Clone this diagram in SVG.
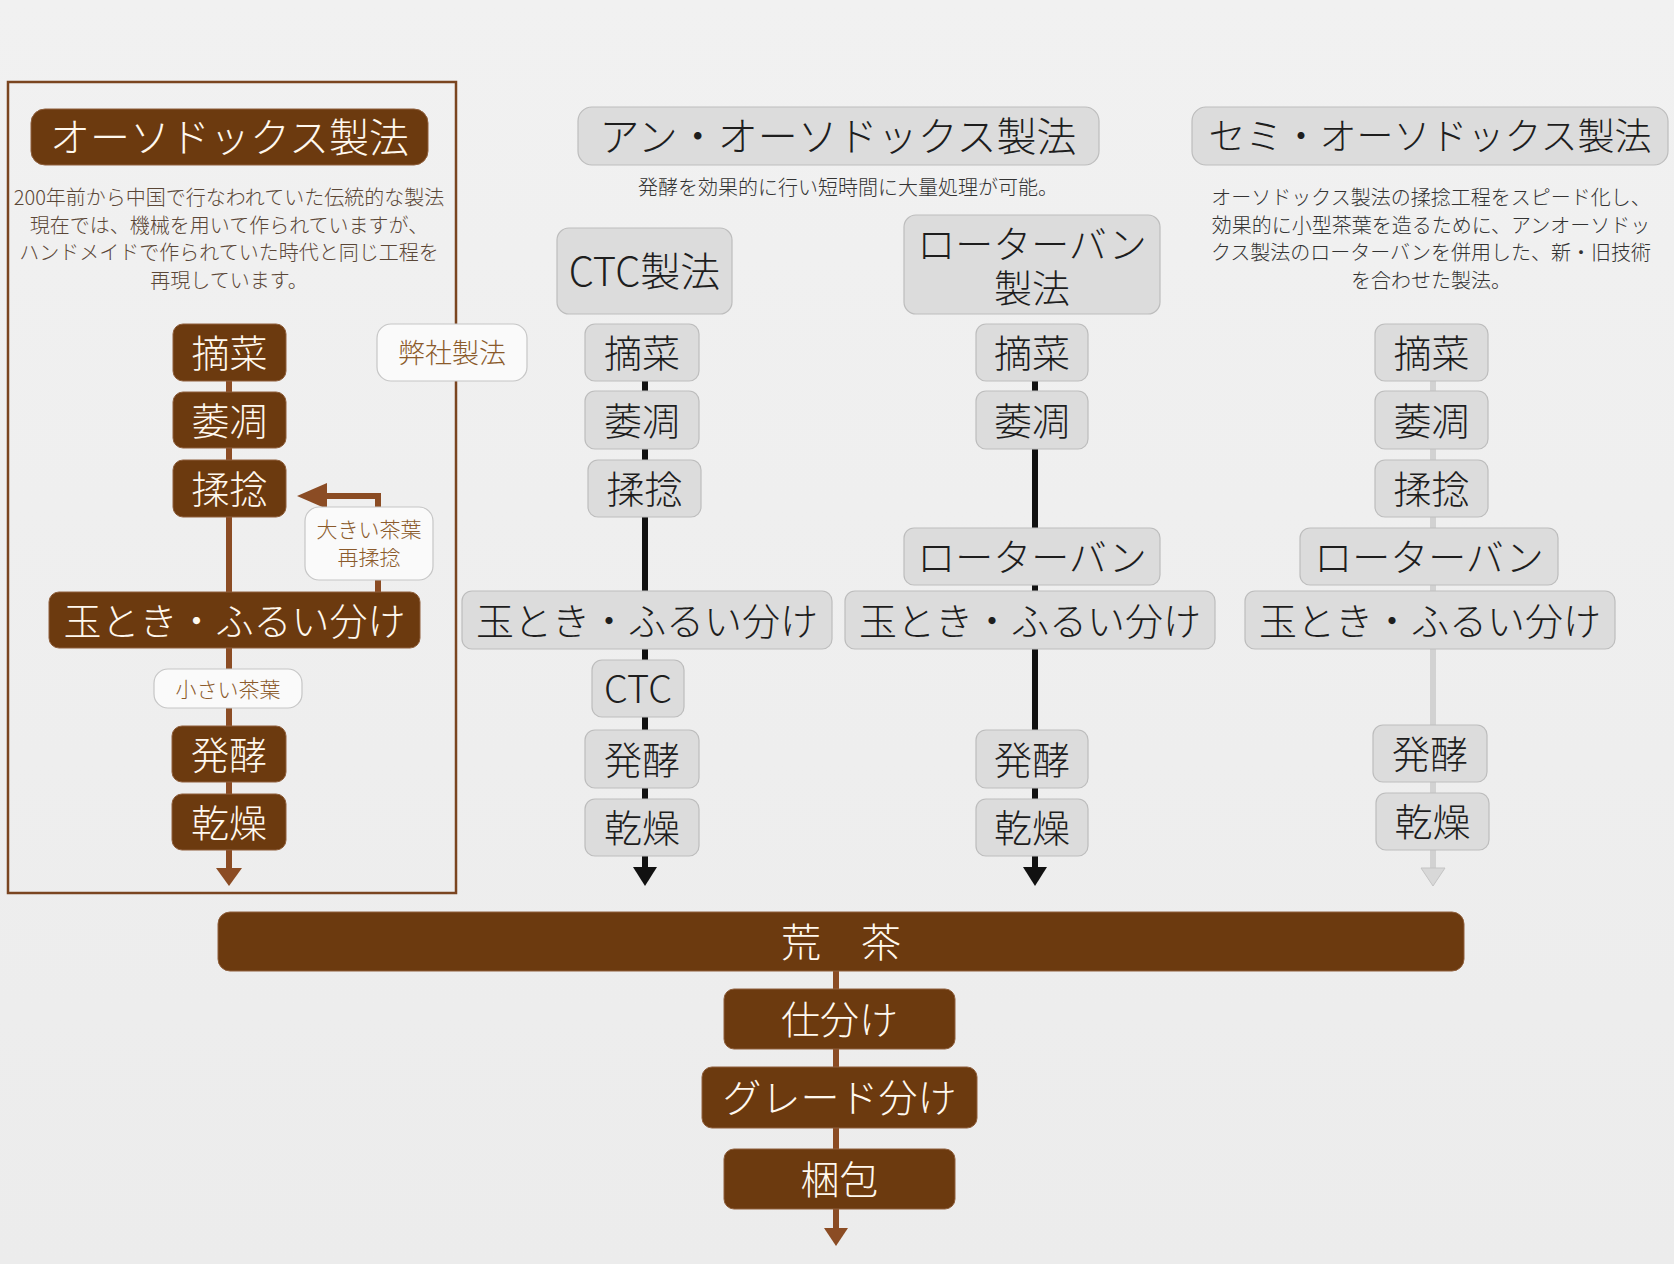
<svg xmlns="http://www.w3.org/2000/svg" width="1674" height="1264" viewBox="0 0 1674 1264">
<defs>
<linearGradient id="bg" x1="0" y1="0" x2="0" y2="1">
<stop offset="0" stop-color="#f1f1f1"/>
<stop offset="1" stop-color="#ececec"/>
</linearGradient>
<style>
text{font-family:"Noto Sans CJK JP","Noto Sans",sans-serif;font-weight:300;text-anchor:middle;dominant-baseline:central}
.b{fill:#6c3a0f;stroke:#8f5f3c;stroke-width:1}
.g{fill:#dcdcdc;stroke:#bdbdbd;stroke-width:1.2}
.p{fill:#fafafa;stroke:#c6c6c6;stroke-width:1.2}
.bt{fill:#fff8ee;font-size:38px}
.gt{fill:#1e1e1e;font-size:38px}
.pt{fill:#8b5a2b;font-size:21px}
.d{font-size:20px;fill:#333}
.dl{font-size:20px;fill:#5a4636}
.lb{stroke:#8b4c24;stroke-width:6;fill:none}
.lk{stroke:#111;stroke-width:6;fill:none}
.lg{stroke:#d2d2d2;stroke-width:6;fill:none}
</style>
</defs>
<rect x="0" y="0" width="1674" height="1264" fill="url(#bg)"/>

<g id="connectors">
<line class="lb" x1="229" y1="381" x2="229" y2="870"/>
<polygon points="216,868 242,868 229,886" fill="#8b4c24"/>
<path class="lb" d="M378 592 V496 H322"/>
<polygon points="297,496 327,483 327,509" fill="#8b4c24"/>
<line class="lk" x1="645" y1="381" x2="645" y2="869"/>
<polygon points="633,867 657,867 645,886" fill="#111"/>
<line class="lk" x1="1035" y1="381" x2="1035" y2="869"/>
<polygon points="1023,867 1047,867 1035,886" fill="#111"/>
<line class="lg" x1="1433" y1="381" x2="1433" y2="869"/>
<polygon points="1421,868 1445,868 1433,886" fill="#d8d8d8" stroke="#c4c4c4" stroke-width="1"/>
<line class="lb" x1="836" y1="971" x2="836" y2="1230"/>
<polygon points="824,1228 848,1228 836,1246" fill="#8b4c24"/>
</g>

<g id="orthodox-frame">
<rect x="8" y="82" width="448" height="811" fill="none" stroke="#7a4520" stroke-width="2.5"/>
</g>

<g id="orthodox-title">
<rect class="b" x="31" y="109" width="397" height="56" rx="14"/>
<text class="bt" x="229.5" y="135" style="font-size:40px">オーソドックス製法</text>
</g>
<g id="orthodox-desc">
<text class="dl" x="229" y="196">200年前から中国で行なわれていた伝統的な製法</text>
<text class="dl" x="229" y="224">現在では、機械を用いて作られていますが、</text>
<text class="dl" x="229" y="251">ハンドメイドで作られていた時代と同じ工程を</text>
<text class="dl" x="229" y="279">再現しています。</text>
</g>

<g id="o-tekisai"><rect class="b" x="173" y="324" width="113" height="57" rx="10"/><text class="bt" x="229.5" y="350">摘菜</text></g>
<g id="o-ichou"><rect class="b" x="173" y="392" width="113" height="56" rx="10"/><text class="bt" x="229.5" y="418">萎凋</text></g>
<g id="o-junen"><rect class="b" x="173" y="460" width="113" height="57" rx="10"/><text class="bt" x="229.5" y="486">揉捻</text></g>
<g id="o-tamatoki"><rect class="b" x="49" y="592" width="371" height="56" rx="10"/><text class="bt" x="234.5" y="618">玉とき・ふるい分け</text></g>
<g id="o-hakkou"><rect class="b" x="172" y="726" width="114" height="56" rx="10"/><text class="bt" x="229" y="752">発酵</text></g>
<g id="o-kansou"><rect class="b" x="172" y="794" width="114" height="56" rx="10"/><text class="bt" x="229" y="820">乾燥</text></g>
<g id="o-large"><rect class="p" x="305" y="507" width="128" height="73" rx="14"/><text class="pt" x="369" y="528">大きい茶葉</text><text class="pt" x="369" y="556">再揉捻</text></g>
<g id="o-small"><rect class="p" x="154" y="669" width="148" height="39" rx="14"/><text class="pt" x="228" y="688">小さい茶葉</text></g>
<g id="heisha"><rect class="p" x="377" y="324" width="150" height="57" rx="14"/><text class="pt" x="452" y="351" style="font-size:27px">弊社製法</text></g>

<g id="unorthodox-title">
<rect class="g" x="578" y="107" width="521" height="58" rx="14"/>
<text class="gt" x="838" y="134" style="font-size:40px">アン・オーソドックス製法</text>
</g>
<g id="unorthodox-desc"><text class="d" x="848" y="186">発酵を効果的に行い短時間に大量処理が可能。</text></g>

<g id="ctc-title"><rect class="g" x="557" y="228" width="175" height="86" rx="12"/><text class="gt" x="644.5" y="269" style="font-size:40px">CTC製法</text></g>
<g id="c-tekisai"><rect class="g" x="585" y="324" width="114" height="57" rx="10"/><text class="gt" x="642" y="350">摘菜</text></g>
<g id="c-ichou"><rect class="g" x="585" y="391" width="114" height="58" rx="10"/><text class="gt" x="642" y="418">萎凋</text></g>
<g id="c-junen"><rect class="g" x="588" y="460" width="113" height="57" rx="10"/><text class="gt" x="644.5" y="486">揉捻</text></g>
<g id="c-tamatoki"><rect class="g" x="462" y="591" width="370" height="58" rx="10"/><text class="gt" x="647" y="618">玉とき・ふるい分け</text></g>
<g id="c-ctc"><rect class="g" x="592" y="660" width="92" height="57" rx="10"/><text class="gt" x="638" y="686">CTC</text></g>
<g id="c-hakkou"><rect class="g" x="585" y="730" width="114" height="58" rx="10"/><text class="gt" x="642" y="757">発酵</text></g>
<g id="c-kansou"><rect class="g" x="585" y="799" width="114" height="57" rx="10"/><text class="gt" x="642" y="825">乾燥</text></g>

<g id="rotorvane-title"><rect class="g" x="904" y="215" width="256" height="99" rx="12"/><text class="gt" style="font-size:38px"><tspan x="1032" y="241">ローターバン</tspan><tspan x="1032" y="285">製法</tspan></text></g>
<g id="r-tekisai"><rect class="g" x="976" y="324" width="112" height="57" rx="10"/><text class="gt" x="1032" y="350">摘菜</text></g>
<g id="r-ichou"><rect class="g" x="976" y="391" width="112" height="58" rx="10"/><text class="gt" x="1032" y="418">萎凋</text></g>
<g id="r-rotorvane"><rect class="g" x="904" y="528" width="256" height="57" rx="10"/><text class="gt" x="1032" y="554">ローターバン</text></g>
<g id="r-tamatoki"><rect class="g" x="845" y="591" width="370" height="58" rx="10"/><text class="gt" x="1030" y="618">玉とき・ふるい分け</text></g>
<g id="r-hakkou"><rect class="g" x="976" y="730" width="112" height="58" rx="10"/><text class="gt" x="1032" y="757">発酵</text></g>
<g id="r-kansou"><rect class="g" x="976" y="799" width="112" height="57" rx="10"/><text class="gt" x="1032" y="825">乾燥</text></g>

<g id="semi-title">
<rect class="g" x="1192" y="107" width="476" height="58" rx="14"/>
<text class="gt" x="1430" y="134" style="font-size:37px">セミ・オーソドックス製法</text>
</g>
<g id="semi-desc">
<text class="d" x="1431" y="196">オーソドックス製法の揉捻工程をスピード化し、</text>
<text class="d" x="1431" y="224">効果的に小型茶葉を造るために、アンオーソドッ</text>
<text class="d" x="1431" y="251">クス製法のローターバンを併用した、新・旧技術</text>
<text class="d" x="1431" y="279">を合わせた製法。</text>
</g>
<g id="s-tekisai"><rect class="g" x="1375" y="324" width="113" height="57" rx="10"/><text class="gt" x="1431.5" y="350">摘菜</text></g>
<g id="s-ichou"><rect class="g" x="1375" y="391" width="113" height="58" rx="10"/><text class="gt" x="1431.5" y="418">萎凋</text></g>
<g id="s-junen"><rect class="g" x="1375" y="460" width="113" height="57" rx="10"/><text class="gt" x="1431.5" y="486">揉捻</text></g>
<g id="s-rotorvane"><rect class="g" x="1300" y="528" width="258" height="57" rx="10"/><text class="gt" x="1429" y="554">ローターバン</text></g>
<g id="s-tamatoki"><rect class="g" x="1245" y="591" width="370" height="58" rx="10"/><text class="gt" x="1430" y="618">玉とき・ふるい分け</text></g>
<g id="s-hakkou"><rect class="g" x="1373" y="725" width="114" height="57" rx="10"/><text class="gt" x="1430" y="751">発酵</text></g>
<g id="s-kansou"><rect class="g" x="1376" y="793" width="113" height="57" rx="10"/><text class="gt" x="1432.5" y="819">乾燥</text></g>

<g id="aracha"><rect class="b" x="218" y="912" width="1246" height="59" rx="12"/><text class="bt" x="841" y="940" style="font-size:40px">荒　茶</text></g>
<g id="shiwake"><rect class="b" x="724" y="989" width="231" height="60" rx="10"/><text class="bt" x="839.5" y="1017" style="font-size:39px">仕分け</text></g>
<g id="grade"><rect class="b" x="702" y="1067" width="275" height="61" rx="10"/><text class="bt" x="839.5" y="1095" style="font-size:39px">グレード分け</text></g>
<g id="konpou"><rect class="b" x="724" y="1149" width="231" height="60" rx="10"/><text class="bt" x="839.5" y="1177" style="font-size:39px">梱包</text></g>
</svg>
